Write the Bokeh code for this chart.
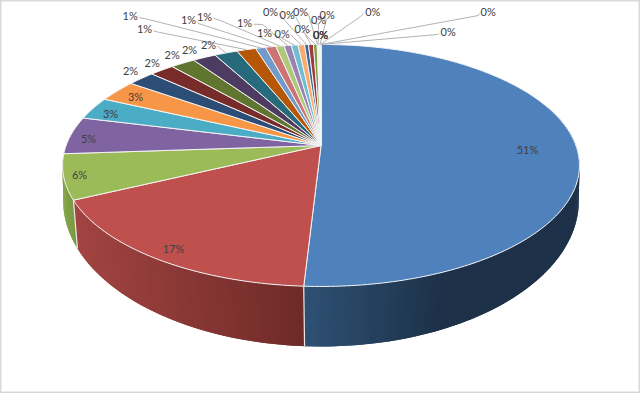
import math
from bokeh.plotting import figure
from bokeh.models import Range1d, ColumnDataSource
from bokeh.core.properties import value
from bokeh.embed import file_html
from bokeh.resources import INLINE

# --- data: share of each slice, clockwise from twelve o'clock
SHARES = [50.9, 17.0, 6.0, 5.0, 3.0, 2.9, 2.0, 1.8, 1.8, 1.7, 1.7, 1.4,
          0.74, 0.76, 0.6, 0.53, 0.5, 0.47, 0.29, 0.36, 0.27,
          0.05, 0.04, 0.04, 0.03, 0.03, 0.03, 0.03, 0.02, 0.01]
LABELS = ["51%", "17%", "6%", "5%", "3%", "3%", "2%", "2%", "2%", "2%", "2%",
          "1%", "1%", "1%", "1%", "1%", "1%",
          "0%", "0%", "0%", "0%", "0%", "0%", "0%", "0%", "0%", "0%", "0%", "0%", "0%"]
COLORS = ["#4f81bd", "#bf504d", "#9bbb59", "#8064a2", "#4bacc6", "#f79646",
          "#2c4d75", "#772c2a", "#5f7530", "#4d3b62", "#276a7c", "#b65708",
          "#729aca", "#cd7371", "#afc97a", "#9983b5", "#6fbdd1", "#f9ab6b",
          "#3a679c", "#9f3b38", "#7e9d40", "#674f84", "#358ea6", "#d8700d",
          "#95b3d7", "#d99694", "#c3d69b", "#b3a2c7", "#93cddd", "#fac090"]
LABEL_X = [527, 173, 79, 88, 110, 135, 130, 151.7, 171.7, 189, 208,
           144, 129.7, 188, 204, 244, 264,
           281.7, 270, 286.7, 301.7, 300, 318, 320, 320, 320, 326.7, 372.3, 447.7, 487.7]
LABEL_Y = [149, 248, 174, 138, 113, 96, 70, 61.7, 54, 49, 44,
           28.3, 15, 19.3, 15.7, 21.7, 32,
           32.7, 11, 14.3, 27.7, 11, 19.3, 34.3, 34.3, 34.3, 14.3, 11, 31, 11]
ELBOW_X = [None] * 10 + [218,
           158, 148, 198, 220, 262, 276,
           293, 279, 296, 305, 308, 318, None, None, None, 326, 360, 437, 478]
ELBOW_Y = [None] * 10 + [46.5,
           31.7, 19, 23, 20, 24, 35,
           37, 14, 18, 34, 14, 24, None, None, None, 19, 16, 34, 15]

TOP = dict(cx=320.5, cy=145.0, a=254.9, b=117.7, k=0.165)
BOT = dict(cx=320.5, cy=182.6, a=256.0, b=143.8, k=0.12)


def proj(m, deg):
    t = math.radians(deg)
    d = 1 + m["k"] * math.cos(t)
    return m["cx"] + m["a"] * math.sin(t) / d, m["cy"] - m["b"] * math.cos(t) / d


def lerp(c1, c2, f):
    f = max(0.0, min(1.0, f))
    a = [int(c1[i:i + 2], 16) for i in (1, 3, 5)]
    b = [int(c2[i:i + 2], 16) for i in (1, 3, 5)]
    return "#%02x%02x%02x" % tuple(round(x + (y - x) * f) for x, y in zip(a, b))


def wall_color(i, x):
    if i == 0:
        return lerp("#2e5073", "#1d3149", (x - 304) / 130)
    if i == 1:
        return lerp("#a24441", "#6e2a28", (x - 78) / 226)
    return lerp("#86a64a", "#7a9740", (x - 62) / 16)


p = figure(width=640, height=393, output_backend="svg", toolbar_location=None,
           x_range=Range1d(0, 640), y_range=Range1d(393, 0),
           min_border=0)
p.axis.visible = False
p.grid.visible = False
p.outline_line_color = "#d9d9d9"
p.outline_line_width = 2
p.background_fill_color = "white"

total = sum(SHARES)
bounds = [0.0]
for s in SHARES:
    bounds.append(bounds[-1] + 360.0 * s / total)

# side wall, in overlapping steps so that the shade runs across it
wx, wy, wc = [], [], []
edges = []
for i in range(3):
    start = max(bounds[i], 70.0)
    end = min(bounds[i + 1], 285.0)
    n = max(2, int((end - start) / 1.0))
    for j in range(n):
        t0 = start + (end - start) * j / n
        t1 = min(end, start + (end - start) * (j + 2) / n)
        a0, a1 = proj(TOP, t0), proj(TOP, t1)
        b1, b0 = proj(BOT, t1), proj(BOT, t0)
        wx.append([a0[0], a1[0], b1[0], b0[0]])
        wy.append([a0[1], a1[1], b1[1], b0[1]])
        wc.append(wall_color(i, (b0[0] + b1[0]) / 2))
    edges.append(bounds[i + 1])
p.patches(wx, wy, fill_color=wc, line_color=None)
for t in edges[:2]:
    a, b = proj(TOP, t), proj(BOT, t)
    p.line([a[0], b[0]], [a[1], b[1]], line_color="#e8e8e8", line_width=1.2)

# top face
fx, fy = [], []
for i in range(len(SHARES)):
    n = max(2, int((bounds[i + 1] - bounds[i]) / 1.0))
    pts = [proj(TOP, bounds[i] + (bounds[i + 1] - bounds[i]) * j / n) for j in range(n + 1)]
    fx.append([TOP["cx"]] + [q[0] for q in pts])
    fy.append([TOP["cy"]] + [q[1] for q in pts])
p.patches(fx, fy, fill_color=COLORS[:len(SHARES)], line_color="#f4f4f4", line_width=1.0,
          line_join="round")

# leaders
lx, ly = [], []
for i in range(len(SHARES)):
    if ELBOW_X[i] is None:
        continue
    m = proj(TOP, (bounds[i] + bounds[i + 1]) / 2)
    sx = LABEL_X[i] + (9 if LABEL_X[i] < ELBOW_X[i] else -9)
    lx.append([sx, ELBOW_X[i], m[0]])
    ly.append([LABEL_Y[i] + 2, ELBOW_Y[i], m[1]])
p.multi_line(lx, ly, line_color="#b3b3b3", line_width=1)

src = ColumnDataSource(dict(x=LABEL_X, y=LABEL_Y, t=LABELS))
p.text("x", "y", "t", source=src, text_font=value("Lato"), text_font_size="11px",
       text_color="#404040", text_align="center", text_baseline="middle")

open("out.html", "w").write(file_html(p, INLINE))
